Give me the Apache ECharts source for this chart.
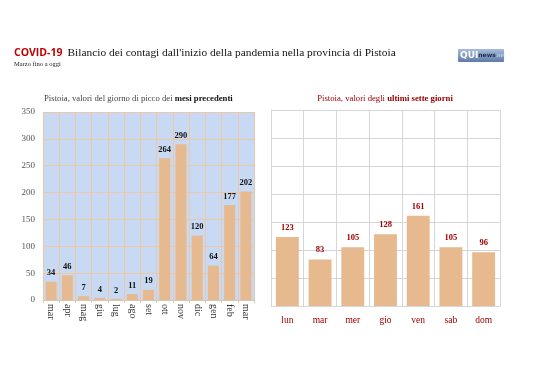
<!DOCTYPE html>
<html><head><meta charset="utf-8">
<script src="https://cdn.jsdelivr.net/npm/echarts@6/dist/echarts.min.js"></script>
<style>html,body{margin:0;padding:0;background:#fff}#c{width:538px;height:380px}</style>
</head><body><div id="c"></div>
<script>
var monthCats = ['mar','apr','mag','giu','lug','ago','set','ott','nov','dic','gen','feb','mar'];
var monthVals = [34,46,7,4,2,11,19,264,290,120,64,177,202];
var dayCats = ['lun','mar','mer','gio','ven','sab','dom'];
var dayVals = [123,83,105,128,161,105,96];
var yMin = 0, yMax = 350, yStep = 50;

var serif = '"Liberation Serif", "DejaVu Serif", serif';
var barColor = '#e6ba8e';
var chart = echarts.init(document.getElementById('c'));
chart.setOption({
  backgroundColor: '#fff',
  animation: false,
  title: [
    {left: 14, top: 44, padding: 0, text: '{r|COVID-19} {b|Bilancio dei contagi dall\'inizio della pandemia nella provincia di Pistoia}',
     textStyle: {fontWeight: 'normal', rich: {
       r: {fontFamily: '"Open Sans", "Noto Sans", sans-serif', fontWeight: 'bold', fontSize: 10.5, color: '#c00000'},
       b: {fontFamily: serif, fontSize: 11.4, fontWeight: 'normal', color: '#111'}}}},
    {left: 14, top: 61, padding: 0, text: 'Marzo fino a oggi', textStyle: {fontFamily: serif, fontSize: 6.5, fontWeight: 'normal', color: '#222'}},
    {left: 44, top: 94, padding: 0, text: '{n|Pistoia, valori del giorno di picco dei }{b|mesi precedenti}',
     textStyle: {fontWeight: 'normal', rich: {n: {fontFamily: serif, fontSize: 8.7, fontWeight: 'normal', color: '#444'}, b: {fontFamily: serif, fontSize: 8.7, fontWeight: 'bold', color: '#111'}}}},
    {left: 385, textAlign: 'center', top: 94, padding: 0, text: '{n|Pistoia, valori degli }{b|ultimi sette giorni}',
     textStyle: {fontWeight: 'normal', rich: {n: {fontFamily: serif, fontSize: 8.7, fontWeight: 'normal', color: '#a00000'}, b: {fontFamily: serif, fontSize: 8.7, fontWeight: 'bold', color: '#a00000'}}}}
  ],
  graphic: [
    {type: 'rect', shape: {x: 458, y: 49, width: 46, height: 13, r: 1},
     style: {fill: new echarts.graphic.LinearGradient(0,0,0,1,[{offset:0,color:'#a9bcd9'},{offset:1,color:'#5d7aa8'}])}},
    {type: 'text', x: 460, y: 51, style: {text: '{q|QUI}{n|news}{t|.net}', rich: {
      q: {fontFamily: '"DejaVu Sans", sans-serif', fontWeight: 'bold', fontSize: 9, fill: '#ffffff'},
      n: {fontFamily: '"DejaVu Sans", sans-serif', fontWeight: 'bold', fontSize: 6, fill: '#1f2f50'},
      t: {fontFamily: '"DejaVu Sans", sans-serif', fontSize: 5, fill: '#dde6f3'}}}}
  ],
  grid: [
    {left: 43, right: 284, top: 112, bottom: 80, show: true, backgroundColor: '#c8daf3', borderWidth: 0},
    {left: 271, right: 38, top: 110, bottom: 74, show: false}
  ],
  xAxis: [
    {gridIndex: 0, type: 'category', data: monthCats,
     axisLine: {show: true, lineStyle: {color: '#d9c7b2'}},
     axisTick: {show: true, length: 3, lineStyle: {color: '#d9c7b2'}},
     splitLine: {show: true, lineStyle: {color: '#efc7a3', width: 1}},
     axisLabel: {rotate: -90, fontFamily: serif, fontSize: 10, color: '#333', margin: 4}},
    {gridIndex: 1, type: 'category', data: dayCats,
     axisLine: {show: true, lineStyle: {color: '#d6d6d6'}},
     axisTick: {show: false},
     splitLine: {show: true, lineStyle: {color: '#d6d6d6', width: 1}},
     axisLabel: {fontFamily: serif, fontSize: 9.5, color: '#a00000', margin: 9}}
  ],
  yAxis: [
    {gridIndex: 0, type: 'value', min: yMin, max: yMax, interval: yStep,
     axisLine: {show: false}, axisTick: {show: false},
     splitLine: {lineStyle: {color: '#efc7a3', width: 1}},
     axisLabel: {fontFamily: serif, fontSize: 9, color: '#555', margin: 8}},
    {gridIndex: 1, type: 'value', min: yMin, max: yMax, interval: yStep,
     axisLine: {show: true, lineStyle: {color: '#d6d6d6'}}, axisTick: {show: false},
     splitLine: {lineStyle: {color: '#d6d6d6', width: 1}},
     axisLabel: {show: false}}
  ],
  series: [
    {type: 'bar', xAxisIndex: 0, yAxisIndex: 0, data: monthVals, barCategoryGap: '32%',
     itemStyle: {color: barColor},
     label: {show: true, position: 'top', distance: 4, fontFamily: serif, fontSize: 8.5, fontWeight: 'bold', color: '#111'}},
    {type: 'bar', xAxisIndex: 1, yAxisIndex: 1, data: dayVals, barCategoryGap: '30%',
     itemStyle: {color: barColor},
     label: {show: true, position: 'top', distance: 5, fontFamily: serif, fontSize: 8.5, fontWeight: 'bold', color: '#a00000'}}
  ]
});
</script></body></html>
